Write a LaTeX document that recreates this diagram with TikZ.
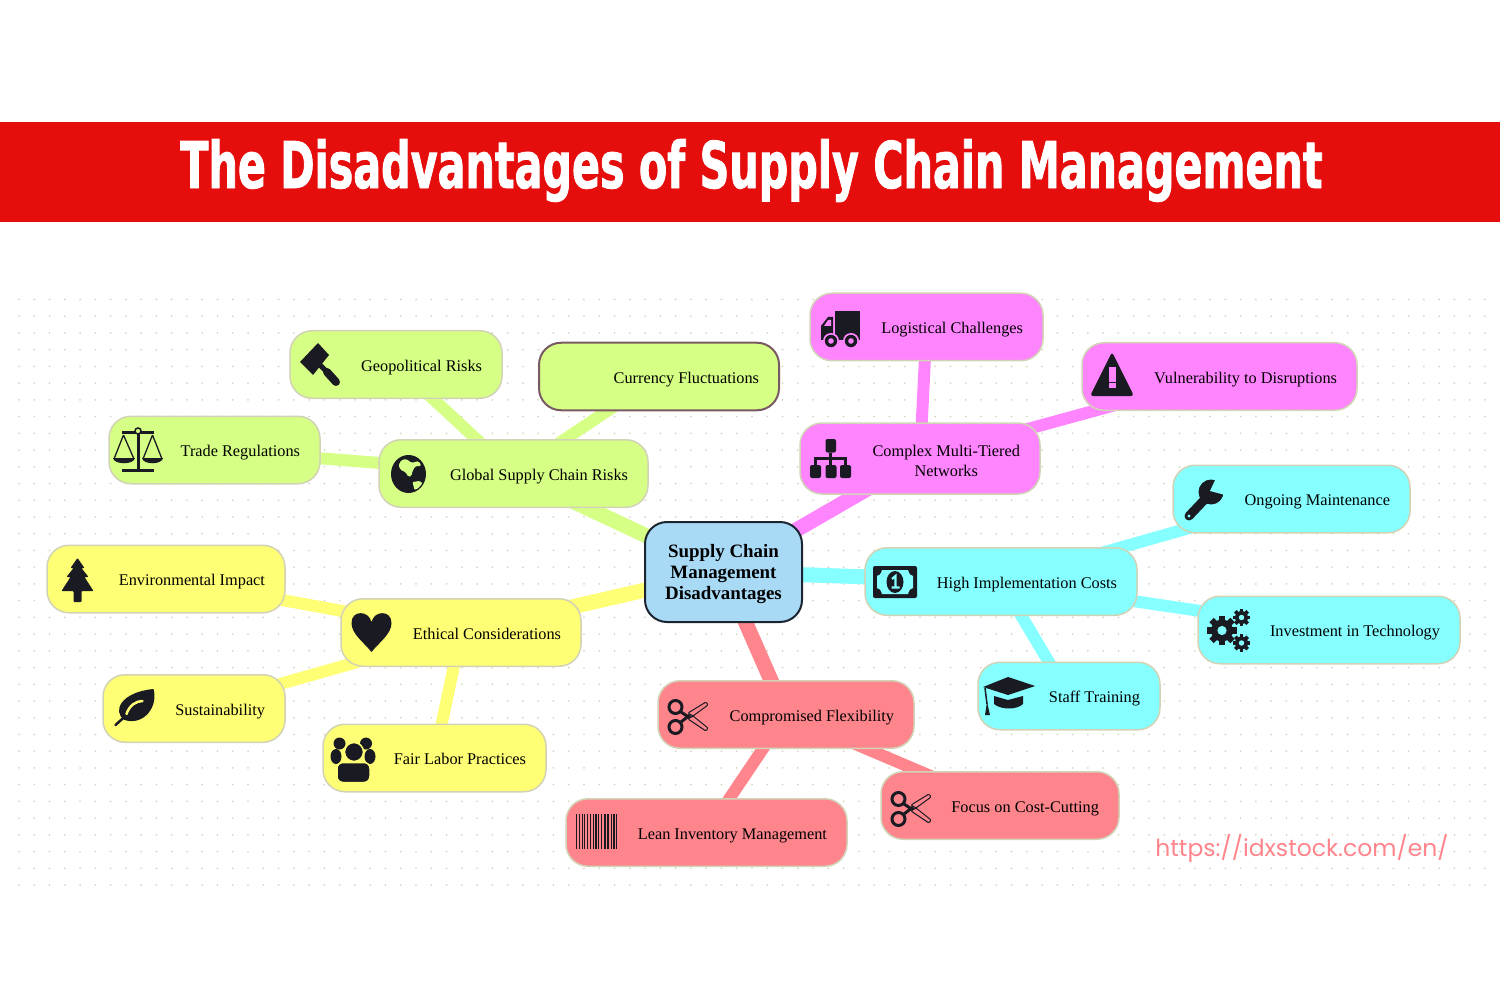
\documentclass[tikz,border=0pt]{standalone}
\usepackage{fontspec}
\setmainfont{Liberation Serif}
\newfontfamily\titlefont[FakeStretch=.64,FakeBold=1.2]{DejaVu Sans}
\newfontfamily\urlfont{Poppins}
\usepackage{xcolor}
\usetikzlibrary{backgrounds,positioning}

\definecolor{bandred}{HTML}{E60D0D}
\definecolor{riskgreen}{HTML}{D6FF85}
\definecolor{netpink}{HTML}{FF85FF}
\definecolor{costcyan}{HTML}{85FFFF}
\definecolor{flexred}{HTML}{FF858D}
\definecolor{ethicyellow}{HTML}{FFFF75}
\definecolor{rootblue}{HTML}{A8DAF6}
\definecolor{rootline}{HTML}{1C2430}
\definecolor{boxline}{HTML}{D2D2B6}
\definecolor{dotgrey}{HTML}{D6D6C0}
\definecolor{icondark}{HTML}{1A1A22}
\definecolor{pickedline}{HTML}{7A5A62}

\newcommand{\gearwheel}[3]{%
    \fill[icondark] (#1,#2) circle (#3);
    \foreach \a in {0,45,...,315} \draw[icondark,line width=#3*.55pt] (#1,#2) ++(\a:#3*.8) -- ++(\a:#3*.55);
    \fill[costcyan] (#1,#2) circle (#3*.42);
}

\tikzset{
    box/.style={draw=boxline, line width=1.5pt, rounded corners=22pt, text=black, font=\fontsize{16.3}{20}\selectfont,
        minimum width=#1, text width={#1pt-40pt}, inner xsep=20pt, inner ysep=0pt, minimum height=67.5pt, align=flush right,
        text height=17pt, text depth=3.5pt},
    risk/.style={box=#1, fill=riskgreen},
    net/.style={box=#1, fill=netpink},
    cost/.style={box=#1, fill=costcyan},
    flex/.style={box=#1, fill=flexred},
    ethic/.style={box=#1, fill=ethicyellow},
    rootlink/.style={line width=15pt},
    leaflink/.style={line width=12pt},
    gavelicon/.pic={
        \fill[icondark] (-2,-22) -- (9,-10) -- (-7,10) -- (-20,-3) -- cycle;
        \draw[icondark,line width=5pt] (0,0) -- (8,8);
        \draw[icondark,line width=8pt,line cap=round] (7,7) -- (16,17);
    },
    scalesicon/.pic={
        \draw[icondark,line width=3pt] (-16,-18) -- (16,-18) (0,-18) -- (0,20) (-16,20) -- (16,20);
        \draw[icondark,line width=1.5pt,fill=riskgreen] (0,-19) circle (3);
        \draw[icondark,line width=1.3pt] (-14.5,-15) -- (-24,9) (-14.5,-15) -- (-4,9) (14.5,-15) -- (5,9) (14.5,-15) -- (24,9);
        \fill[icondark] (-25,8) .. controls (-24,15) and (-4,15) .. (-3,8) -- cycle;
        \fill[icondark] (4,8) .. controls (5,15) and (24,15) .. (25,8) -- cycle;
    },
    globeicon/.pic={
        \fill[icondark] (0,0) circle[x radius=17.5,y radius=19];
        \fill[riskgreen,rounded corners=1.5pt] (-7,-14) -- (-2,-15) -- (3,-11) -- (10,-13) -- (13,-8) -- (7,-8) -- (4,-3) -- (3,2) -- (0,3) -- (-3,-2) -- (-8,-4) -- (-10,-9) -- cycle;
        \fill[riskgreen,rounded corners=1pt] (4,8) -- (11,7) -- (14,9) -- (10,14) -- (6,16) -- cycle;
    },
    truckicon/.pic={
        \fill[icondark] (-6.5,-18) rectangle (19,9);
        \fill[icondark] (-8,-12) -- (-13,-12) -- (-20,-3) -- (-20,9) -- (-8,9) -- cycle;
        \fill[netpink] (-10,-9) -- (-13,-9) -- (-17,-3) -- (-10,-3) -- cycle;
        \fill[icondark] (-20,9) rectangle (19,11);
        \foreach \w in {-10,10} {
            \fill[netpink] (\w,12) circle (8);
            \fill[icondark] (\w,12) circle (6.2);
            \fill[netpink] (\w,12) circle (2.8);
        }
    },
    warnicon/.pic={
        \fill[icondark,rounded corners=3pt] (0,-23) -- (22,21) -- (-22,21) -- cycle;
        \fill[netpink] (-3.5,-8) rectangle (3.5,7);
        \fill[netpink] (-3.5,8.5) rectangle (3.5,13);
    },
    orgicon/.pic={
        \fill[icondark,rounded corners=2pt] (-5,-19.5) rectangle (5.5,-6);
        \foreach \w in {-20.5,-5,9.5} \fill[icondark,rounded corners=2pt] (\w,6.5) rectangle ++(11,13);
        \draw[icondark,line width=2.4pt] (0,-6) -- (0,7) (-15,7) -- (-15,0) -- (15,0) -- (15,7);
    },
    wrenchicon/.pic={
        \fill[icondark] (8,-8) circle (12.5);
        \fill[costcyan] (7,-9) -- (14,-24) -- (28,-16) -- (22,-5) -- cycle;
        \draw[icondark,line width=9pt,line cap=round] (-14,16) -- (4,-3);
        \fill[costcyan] (-14,16) circle (1.6);
    },
    moneyicon/.pic={
        \fill[icondark,rounded corners=2pt] (-22,-16) rectangle (22,16);
        \fill[costcyan] (-13,-12) -- (13,-12) .. controls (14,-8) and (16,-6) .. (18,-6) -- (18,6) .. controls (16,6) and (14,8) .. (13,12)
            -- (-13,12) .. controls (-14,8) and (-16,6) .. (-18,6) -- (-18,-6) .. controls (-16,-6) and (-14,-8) .. (-13,-12) -- cycle;
        \fill[icondark] (0,0) circle[x radius=8.5,y radius=11];
        \draw[costcyan,line width=2.2pt] (-3,-3) -- (0.5,-6) -- (0.5,5) (-3.5,5.5) -- (4.5,5.5);
    },
    gearicon/.pic={
        \gearwheel{-7}{0}{11}
        \gearwheel{12.5}{-13}{6.5}
        \gearwheel{12.5}{12.5}{6.5}
    },
    capicon/.pic={
        \fill[icondark] (-1,-19) -- (26,-10) -- (-1,-1) -- (-26,-9) -- cycle;
        \fill[icondark] (-15,0) -- (-1,4) -- (14,0) -- (14,8) .. controls (8,14) and (-8,14) .. (-15,8) -- cycle;
        \draw[icondark,line width=1.5pt] (-24,-8) -- (-22,8);
        \fill[icondark] (-22,6) -- (-19,19) -- (-24,19) -- cycle;
    },
    scissoricon/.pic={
        \draw[icondark,line width=3pt] (-12.5,-9) circle[x radius=6.5,y radius=6.5] (-12.5,11) circle[x radius=6.5,y radius=6.5];
        \draw[icondark,line width=3pt] (-7,-4) -- (2,2) (-7,6) -- (2,-1);
        \draw[icondark,line width=1pt,fill=flexred,rounded corners=1pt] (0,-3) -- (18,-14) -- (20,-11) -- (5,0) -- cycle;
        \draw[icondark,line width=1pt,fill=flexred,rounded corners=1pt] (0,3) -- (18,15) -- (20,12) -- (5,0) -- cycle;
        \fill[icondark] (1,0) circle (1.5);
    },
    barcodeicon/.pic={
        \foreach \x/\w in {-20.5/1,-17.5/1,-15/.8,-12.5/1,-9.5/1,-6.5/.8,-4/1,-1.5/1.5,1.5/1,4/1.5,7/2,10/2.8,14/1,16.5/1.5,19.5/1}
            \fill[icondark] (\x,-17.5) rectangle ++(\w,35);
    },
    treeicon/.pic={
        \fill[icondark,rounded corners=.8pt] (0,-22) -- (7,-12) -- (4,-12) -- (11,-3) -- (7,-3) -- (16,11) -- (4,11) -- (4,22)
            -- (-4,22) -- (-4,11) -- (-16,11) -- (-7,-3) -- (-11,-3) -- (-4,-12) -- (-7,-12) -- cycle;
    },
    hearticon/.pic={
        \fill[icondark] (0,20) .. controls (-8,10) and (-20,2) .. (-20,-9) .. controls (-20,-22) and (-3,-22) .. (0,-10)
            .. controls (3,-22) and (20,-22) .. (20,-9) .. controls (20,2) and (8,10) .. (0,20) -- cycle;
    },
    leaficon/.pic={
        \fill[icondark] (20,-18) .. controls (25,0) and (10,19) .. (-9,13) .. controls (-22,4) and (-12,-15) .. (20,-18) -- cycle;
        \draw[icondark,line width=2.5pt,line cap=round] (-18,18) -- (-8,9);
        \draw[ethicyellow,line width=2.5pt,line cap=round] (-7,7) .. controls (-4,-2) and (3,-6) .. (9,-6);
    },
    usersicon/.pic={
        \foreach \w in {-13.5,13} \fill[icondark] (\w,-16) circle (6);
        \foreach \w in {-17,17} \fill[icondark] (\w,-3) circle[x radius=5.5,y radius=7.5];
        \draw[ethicyellow,line width=1.5pt,fill=icondark] (1,-7.5) circle (9.5);
        \draw[ethicyellow,line width=1.5pt,fill=icondark,rounded corners=6pt] (-16,23) -- (-16,3) -- (17,3) -- (17,23) -- cycle;
    }
}

\begin{document}
\begin{tikzpicture}[x=1pt,y=-1pt]
    \useasboundingbox (0,0) rectangle (1500,1000);

    % Title band
    \fill[bandred] (0,122) rectangle (1500,222);
    \node[text=white, font=\titlefont\bfseries\fontsize{64.5}{70}\selectfont] (title) at (751.5,170.5) {The Disadvantages of Supply Chain Management};

    % Root
    \node[draw=rootline, line width=2pt, fill=rootblue, rounded corners=22pt, minimum width=157pt, minimum height=100pt, inner sep=0pt,
        align=center, font=\bfseries\fontsize{18.9}{21}\selectfont] (root) at (723.5,572) {\rule{0pt}{17pt}Supply Chain\\Management\\Disadvantages};

    % Global supply chain risks
    \node[risk=269] (global) at (513.5,473.5) {Global Supply Chain Risks};
    \node[risk=211] (trade) at (214.5,450) {Trade Regulations};
    \node[risk=212] (geo) at (396,364.5) {Geopolitical Risks};
    \node[risk=240, draw=pickedline, line width=2pt] (currency) at (659,376.5) {Currency Fluctuations};

    % Complex networks
    \node[net=240, minimum height=71pt, text height=32pt, text depth=16pt] (complex) at (920,458.5) {\hfill\begin{tabular}{@{}c@{}}Complex Multi-Tiered\\Networks\end{tabular}};
    \node[net=233] (logistic) at (926.5,327) {Logistical Challenges};
    \node[net=275] (vulner) at (1219.5,376.5) {Vulnerability to Disruptions};

    % Costs
    \node[cost=272] (costs) at (1001,581.5) {High Implementation Costs};
    \node[cost=237] (upkeep) at (1291.5,499) {Ongoing Maintenance};
    \node[cost=262] (invest) at (1329,630) {Investment in Technology};
    \node[cost=182] (staff) at (1069,696) {Staff Training};

    % Flexibility
    \node[flex=256] (flexy) at (786,714.5) {Compromised Flexibility};
    \node[flex=238] (cutting) at (1000,805.5) {Focus on Cost-Cutting};
    \node[flex=281] (lean) at (706.5,832.5) {Lean Inventory Management};

    % Ethics
    \node[ethic=240] (ethics) at (461,632.5) {Ethical Considerations};
    \node[ethic=238] (enviro) at (166,579) {Environmental Impact};
    \node[ethic=182] (sustain) at (194,708.5) {Sustainability};
    \node[ethic=223] (labor) at (434.5,758) {Fair Labor Practices};

    % Icons
    \pic at (320,365) {gavelicon};
    \pic at (138,450) {scalesicon};
    \pic at (408.5,474) {globeicon};
    \pic at (841,329) {truckicon};
    \pic at (1112,375) {warnicon};
    \pic at (830.5,458.5) {orgicon};
    \pic at (1203,500) {wrenchicon};
    \pic at (895,582) {moneyicon};
    \pic at (1229,630.5) {gearicon};
    \pic at (1009,696) {capicon};
    \pic at (688,716) {scissoricon};
    \pic at (911,808) {scissoricon};
    \pic at (596.5,831.5) {barcodeicon};
    \pic at (77.5,580) {treeicon};
    \pic at (371.5,632) {hearticon};
    \pic at (133.5,707) {leaficon};
    \pic at (353,759.5) {usersicon};

    % Web address
    \node[text=flexred, font=\urlfont\fontsize{23.5}{26}\selectfont, inner sep=0pt] (weblink) at (1302,848) {https://idxstock.com/en/};

    % Dots and links behind the boxes
    \begin{scope}[on background layer]
        \foreach \i in {0,...,96} \foreach \j in {0,...,35}
            \fill[dotgrey] (19+\i*15.27,299.5+\j*16.73) circle (1);
        \draw[rootlink,riskgreen] (root.center) -- (global.center);
        \draw[rootlink,netpink] (root.center) -- (complex.center);
        \draw[rootlink,costcyan] (root.center) -- (costs.center);
        \draw[rootlink,flexred] (root.center) -- (flexy.center);
        \draw[rootlink,ethicyellow] (root.center) -- (ethics.center);
        \foreach \a in {trade,geo,currency} \draw[leaflink,riskgreen] (global.center) -- (\a.center);
        \foreach \a in {logistic,vulner} \draw[leaflink,netpink] (complex.center) -- (\a.center);
        \foreach \a in {upkeep,invest,staff} \draw[leaflink,costcyan] (costs.center) -- (\a.center);
        \foreach \a in {cutting,lean} \draw[leaflink,flexred] (flexy.center) -- (\a.center);
        \foreach \a in {enviro,sustain,labor} \draw[leaflink,ethicyellow] (ethics.center) -- (\a.center);
    \end{scope}
\end{tikzpicture}
\end{document}
